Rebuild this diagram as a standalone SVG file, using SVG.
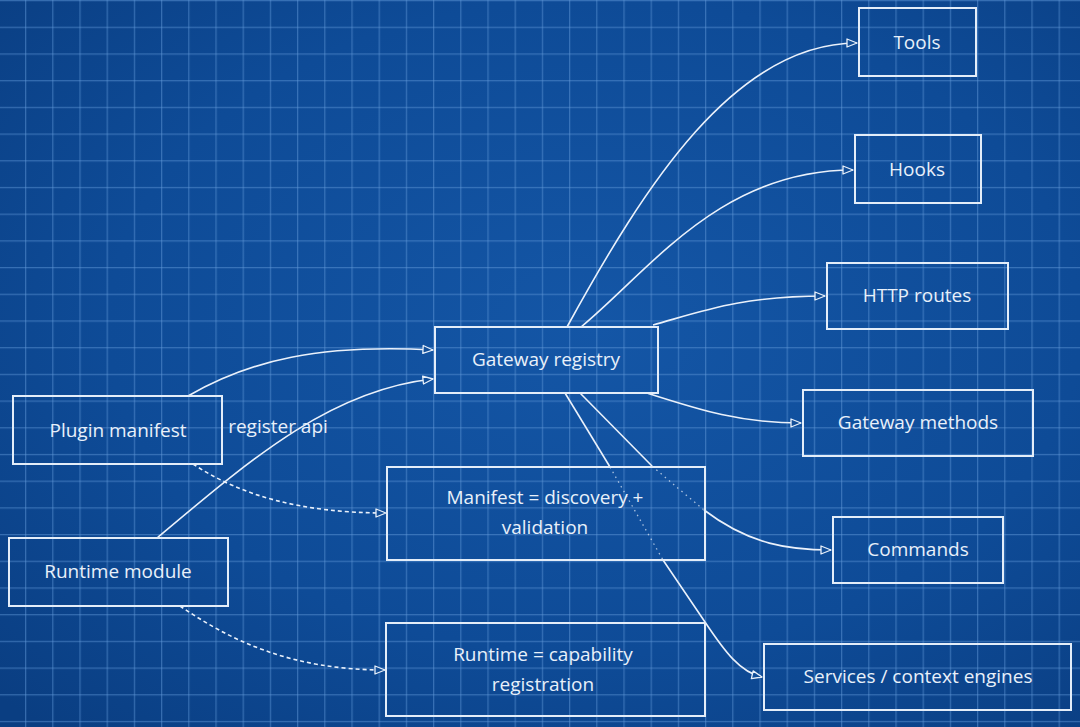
<svg xmlns="http://www.w3.org/2000/svg" width="1080" height="727" viewBox="0 0 1080 727">
  <defs>
    <radialGradient id="bg" cx="55%" cy="45%" r="75%">
      <stop offset="0" stop-color="#1456a6"/>
      <stop offset="0.6" stop-color="#0e4b97"/>
      <stop offset="1" stop-color="#0a3e82"/>
    </radialGradient>
    <pattern id="grid" patternUnits="userSpaceOnUse" x="25" y="0" width="27.2" height="26.7">
      <line x1="0.6" y1="0" x2="0.6" y2="26.7" stroke="#5f97d8" stroke-opacity="0.5" stroke-width="1.3"/>
      <line x1="0" y1="0.6" x2="27.2" y2="0.6" stroke="#5f97d8" stroke-opacity="0.5" stroke-width="1.3"/>
    </pattern>
    <marker id="arr" viewBox="0 0 12 10" refX="11" refY="5" markerWidth="12" markerHeight="10" markerUnits="userSpaceOnUse" orient="auto">
      <path d="M1,1 L11,5 L1,9 Z" fill="#124e98" stroke="#e8f0fa" stroke-width="1.3" stroke-linejoin="round"/>
    </marker>
    <style>
      .box { fill: none; stroke: #e3edf9; stroke-width: 2; }
      .lbl { font-family: "Open Sans", "Noto Sans", "Liberation Sans", sans-serif; font-size: 19px; fill: #e8f0fa; text-anchor: middle; }
      .edge { fill: none; stroke: #eaf1fb; stroke-width: 1.6; }
      .dash { stroke-dasharray: 4 3; }
      .dot { fill: none; stroke: #e8f0fa; stroke-width: 1.3; stroke-dasharray: 1.5 4; stroke-opacity: 0.7; }
    </style>
  </defs>

  <rect x="0" y="0" width="1080" height="727" fill="url(#bg)"/>
  <rect x="0" y="0" width="1080" height="727" fill="url(#grid)"/>

  <g id="connectors">
    <path class="edge" d="M188,396 C250,360 320,344 433,350" marker-end="url(#arr)"/>
    <path class="edge" d="M157,538 C250,460 330,390 433,379" marker-end="url(#arr)"/>
    <path class="edge dash" d="M193,464 C240,495 300,513 386,513" marker-end="url(#arr)"/>
    <path class="edge dash" d="M180,606 C230,640 290,670 385,670" marker-end="url(#arr)"/>
    <path class="edge" d="M567,327 C645,185 735,43 857,43" marker-end="url(#arr)"/>
    <path class="edge" d="M581,327 C650,270 720,170 853,170" marker-end="url(#arr)"/>
    <path class="edge" d="M653,325 C700,312 740,296 825,296" marker-end="url(#arr)"/>
    <path class="edge" d="M647,393 C700,410 740,423 801,423" marker-end="url(#arr)"/>
    <path class="edge" d="M580,393 L652,466"/>
    <path class="dot" d="M652,466 Q680,490 704,510"/>
    <path class="edge" d="M704,510 C750,545 790,550 831,550" marker-end="url(#arr)"/>
    <path class="edge" d="M565,393 L610,467"/>
    <path class="dot" d="M610,467 L663,560"/>
    <path class="edge" d="M663,560 L705,622 C725,652 740,672 762,677" marker-end="url(#arr)"/>
  </g>

  <g id="label-register-api">
    <text class="lbl" x="278" y="433">register api</text>
  </g>

  <g id="node-plugin-manifest">
    <rect class="box" x="13" y="396" width="209" height="68"/>
    <text class="lbl" x="118" y="437">Plugin manifest</text>
  </g>
  <g id="node-runtime-module">
    <rect class="box" x="9" y="538" width="219" height="68"/>
    <text class="lbl" x="118" y="578">Runtime module</text>
  </g>
  <g id="node-gateway-registry">
    <rect class="box" x="435" y="327" width="223" height="66"/>
    <text class="lbl" x="546" y="366">Gateway registry</text>
  </g>
  <g id="node-manifest-discovery">
    <rect class="box" x="387" y="467" width="318" height="93"/>
    <text class="lbl" x="545" y="504">Manifest = discovery +</text>
    <text class="lbl" x="545" y="534">validation</text>
  </g>
  <g id="node-runtime-capability">
    <rect class="box" x="386" y="623" width="319" height="93"/>
    <text class="lbl" x="543" y="661">Runtime = capability</text>
    <text class="lbl" x="543" y="691">registration</text>
  </g>
  <g id="node-tools">
    <rect class="box" x="859" y="8" width="117" height="68"/>
    <text class="lbl" x="917" y="49">Tools</text>
  </g>
  <g id="node-hooks">
    <rect class="box" x="855" y="135" width="126" height="68"/>
    <text class="lbl" x="917" y="176">Hooks</text>
  </g>
  <g id="node-http-routes">
    <rect class="box" x="827" y="263" width="181" height="66"/>
    <text class="lbl" x="917" y="302">HTTP routes</text>
  </g>
  <g id="node-gateway-methods">
    <rect class="box" x="803" y="390" width="230" height="66"/>
    <text class="lbl" x="918" y="429">Gateway methods</text>
  </g>
  <g id="node-commands">
    <rect class="box" x="833" y="517" width="170" height="66"/>
    <text class="lbl" x="918" y="556">Commands</text>
  </g>
  <g id="node-services">
    <rect class="box" x="764" y="644" width="307" height="66"/>
    <text class="lbl" x="918" y="683">Services / context engines</text>
  </g>
</svg>
